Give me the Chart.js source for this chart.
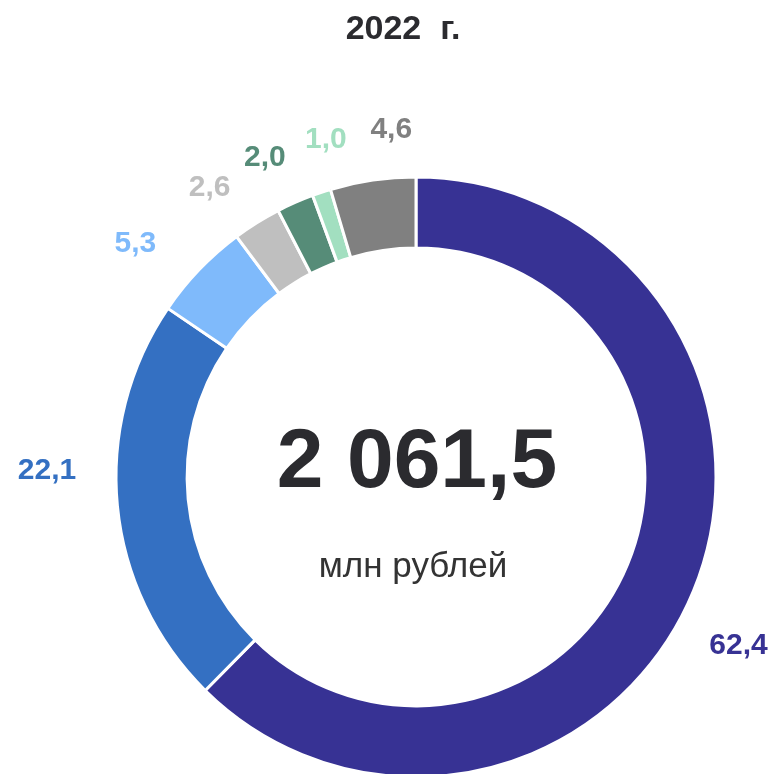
<!DOCTYPE html>
<html>
<head>
<meta charset="utf-8">
<script src="https://cdn.jsdelivr.net/npm/chart.js@4"></script>
<style>
  html, body { margin: 0; padding: 0; background: #fff; overflow: hidden; }
  #wrap { width: 777px; height: 774px; position: relative; }
</style>
</head>
<body>
<div id="wrap"><canvas id="chart"></canvas></div>
<script>
// shares, % (clockwise from the top)
const categories = ["s1", "s2", "s3", "s4", "s5", "s6", "s7"];
const shares = [62.4, 22.1, 5.3, 2.6, 2.0, 1.0, 4.6];
const shareLabels = ["62,4", "22,1", "5,3", "2,6", "2,0", "1,0", "4,6"];
const colors = ["#373294", "#3470C2", "#7FBAFB", "#BFBFBF", "#568C78", "#A2DFC0", "#808080"];
const titleText = "2022  г.";
const totalText = "2 061,5";
const unitText = "млн рублей";

// label placement: angle shift (deg) from slice middle, distance from centre
const labelShift = [5.3, 6.5, -4.0, -3.5, -1.6, 3.4, 4.2];
const labelDist = [364, 369, 365, 355, 353, 349, 348];

const FONT = "'Liberation Sans', Arial, sans-serif";

const textPlugin = {
  id: "texts",
  afterDatasetsDraw(chart) {
    const ctx = chart.ctx;
    const meta = chart.getDatasetMeta(0);
    ctx.save();
    ctx.textAlign = "center";
    ctx.textBaseline = "middle";
    ctx.font = "bold 30px " + FONT;
    meta.data.forEach((arc, i) => {
      const p = arc.getProps(["x", "y", "startAngle", "endAngle"], true);
      const a = (p.startAngle + p.endAngle) / 2 + labelShift[i] * Math.PI / 180;
      ctx.fillStyle = colors[i];
      ctx.fillText(shareLabels[i], p.x + labelDist[i] * Math.cos(a), p.y + labelDist[i] * Math.sin(a));
    });
    const cx = meta.data[0].x;
    ctx.textBaseline = "alphabetic";
    ctx.fillStyle = "#2b2b2f";
    ctx.font = "bold 84px " + FONT;
    ctx.fillText(totalText, cx + 1, 487);
    ctx.fillStyle = "#333333";
    ctx.font = "35px " + FONT;
    ctx.fillText(unitText, cx - 3, 577);
    ctx.fillStyle = "#2b2b2f";
    ctx.font = "bold 34px " + FONT;
    ctx.fillText(titleText, 403, 39);
    ctx.restore();
  }
};

new Chart(document.getElementById("chart"), {
  type: "doughnut",
  data: {
    labels: categories,
    datasets: [{
      data: shares,
      backgroundColor: colors,
      borderColor: "#ffffff",
      borderWidth: 3,
      radius: 300,
      cutout: "76.3%",
      clip: false
    }]
  },
  options: {
    responsive: true,
    maintainAspectRatio: false,
    animation: false,
    layout: { padding: { left: 55, right: 0, top: 180, bottom: 0 } },
    plugins: {
      legend: { display: false },
      tooltip: { enabled: false }
    }
  },
  plugins: [textPlugin]
});
</script>
</body>
</html>
